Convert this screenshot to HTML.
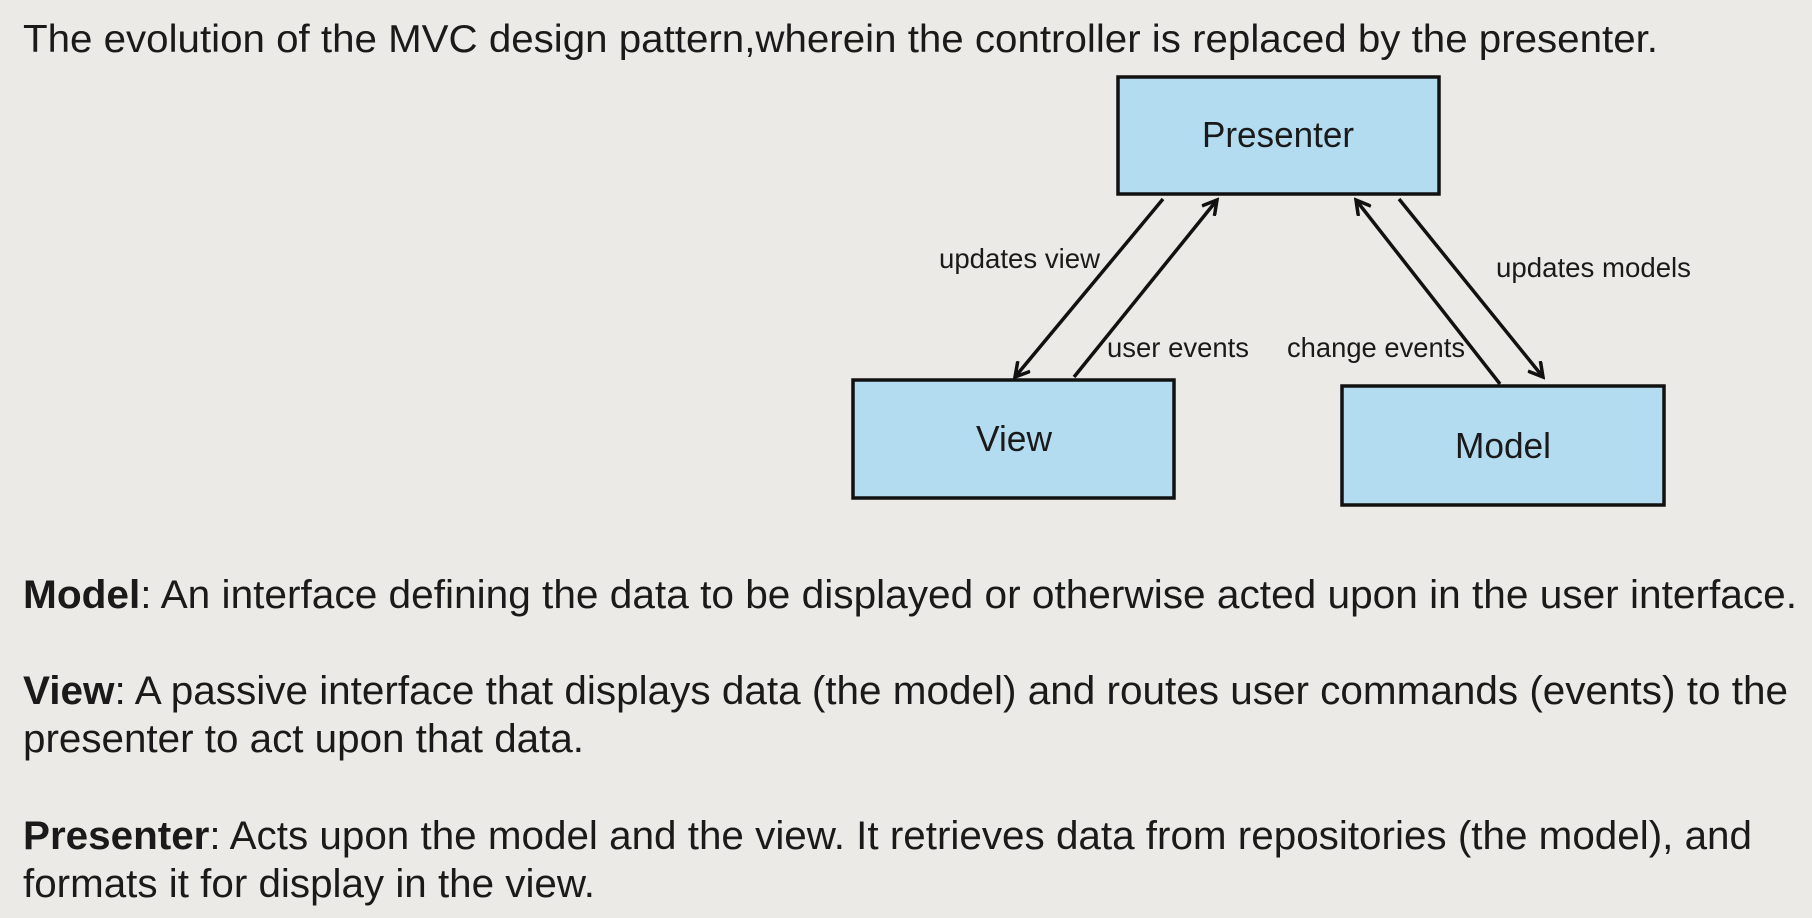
<!DOCTYPE html>
<html><head><meta charset="utf-8"><style>
html,body{margin:0;padding:0;background:#ebeae6;}
svg{display:block;}
text{font-family:"Liberation Sans",Arial,sans-serif;fill:#1a1a1a;}
</style></head><body>
<svg width="1812" height="918" viewBox="0 0 1812 918" xmlns="http://www.w3.org/2000/svg">
<defs>
<marker id="ah" markerWidth="18" markerHeight="18" refX="15" refY="9" orient="auto" markerUnits="userSpaceOnUse">
<path d="M1,1 L15,9 L1,17" fill="none" stroke="#111" stroke-width="3.5"/>
</marker>
</defs>
<rect width="1812" height="918" fill="#ebeae6"/>
<text x="23" y="52" font-size="39" textLength="1635" lengthAdjust="spacingAndGlyphs">The evolution of the MVC design pattern,wherein the controller is replaced by the presenter.</text>

<rect x="1118" y="77" width="321" height="117" fill="#b3dcf1" stroke="#111" stroke-width="3.5"/>
<rect x="853" y="380" width="321" height="118" fill="#b3dcf1" stroke="#111" stroke-width="3.5"/>
<rect x="1342" y="386" width="322" height="119" fill="#b3dcf1" stroke="#111" stroke-width="3.5"/>
<text x="1278" y="147" font-size="36" text-anchor="middle" textLength="152" lengthAdjust="spacingAndGlyphs">Presenter</text>
<text x="1014" y="451" font-size="36" text-anchor="middle" textLength="76" lengthAdjust="spacingAndGlyphs">View</text>
<text x="1503" y="458" font-size="36" text-anchor="middle" textLength="96" lengthAdjust="spacingAndGlyphs">Model</text>

<line x1="1163" y1="199" x2="1015" y2="377" stroke="#111" stroke-width="3.5" marker-end="url(#ah)"/>
<line x1="1074" y1="377" x2="1217" y2="200" stroke="#111" stroke-width="3.5" marker-end="url(#ah)"/>
<line x1="1500" y1="384" x2="1356" y2="200" stroke="#111" stroke-width="3.5" marker-end="url(#ah)"/>
<line x1="1399" y1="199" x2="1543" y2="377" stroke="#111" stroke-width="3.5" marker-end="url(#ah)"/>

<text x="939" y="268" font-size="28" textLength="161" lengthAdjust="spacingAndGlyphs">updates view</text>
<text x="1107" y="357" font-size="28" textLength="142" lengthAdjust="spacingAndGlyphs">user events</text>
<text x="1287" y="357" font-size="28" textLength="178" lengthAdjust="spacingAndGlyphs">change events</text>
<text x="1496" y="277" font-size="28" textLength="195" lengthAdjust="spacingAndGlyphs">updates models</text>

<text x="23" y="608" font-size="40" textLength="1774" lengthAdjust="spacingAndGlyphs"><tspan font-weight="bold">Model</tspan>:  An interface defining the data to be displayed or otherwise acted upon in the user interface.</text>
<text x="23" y="704" font-size="40" textLength="1765" lengthAdjust="spacingAndGlyphs"><tspan font-weight="bold">View</tspan>: A passive interface that displays data (the model) and routes user commands (events) to the</text>
<text x="23" y="752" font-size="40" textLength="561" lengthAdjust="spacingAndGlyphs">presenter to act upon that data.</text>
<text x="23" y="849" font-size="40" textLength="1729" lengthAdjust="spacingAndGlyphs"><tspan font-weight="bold">Presenter</tspan>: Acts upon the model and the view. It retrieves data from repositories (the model), and</text>
<text x="23" y="897" font-size="40" textLength="572" lengthAdjust="spacingAndGlyphs">formats it for display in the view.</text>
</svg>
</body></html>
